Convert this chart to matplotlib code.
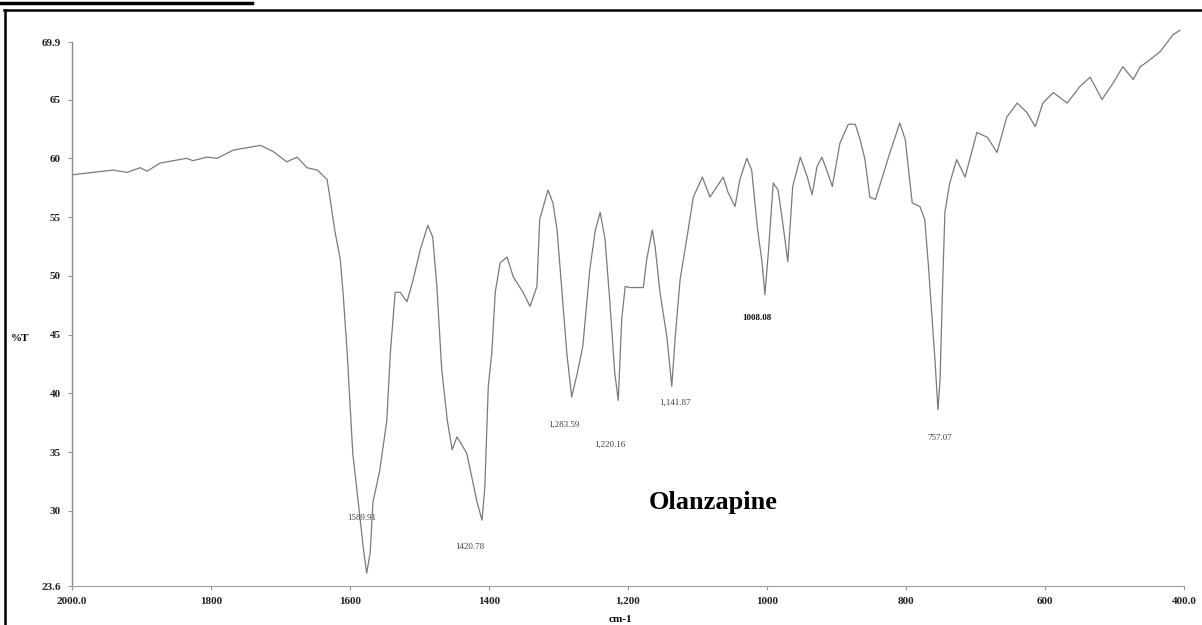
import matplotlib
matplotlib.use('Agg')
import matplotlib.pyplot as plt
from matplotlib.lines import Line2D

# wavenumber (cm-1) and %T
wavenumber = [1999, 1941, 1921, 1902, 1892, 1873, 1835, 1826, 1806, 1791,
              1768, 1729, 1711, 1691, 1676, 1662, 1647, 1633, 1629, 1622,
              1614, 1610, 1604, 1600, 1596, 1588, 1581, 1576, 1571, 1567,
              1557, 1547, 1542, 1535, 1528, 1518, 1509, 1499, 1488, 1481,
              1475, 1468, 1460, 1453, 1446, 1432, 1417, 1410, 1406, 1401,
              1396, 1391, 1384, 1374, 1365, 1351, 1341, 1331, 1327, 1319,
              1315, 1308, 1302, 1295, 1288, 1281, 1273, 1265, 1255, 1247,
              1240, 1233, 1226, 1219, 1214, 1209, 1204, 1197, 1178, 1173,
              1165, 1161, 1154, 1144, 1137, 1132, 1125, 1115, 1106, 1093,
              1082, 1072, 1063, 1056, 1046, 1039, 1029, 1022, 1014, 1007,
              1003, 998, 991, 984, 978, 970, 963, 952, 942, 935,
              928, 921, 914, 906, 895, 883, 873, 866, 859, 852,
              844, 834, 823, 809, 801, 791, 780, 773, 768, 763,
              758, 754, 751, 747, 744, 737, 727, 715, 698, 683,
              669, 655, 640, 626, 614, 603, 588, 568, 550, 535,
              525, 518, 502, 488, 473, 463, 453, 434, 416, 406]
transmittance = [58.6, 59.0, 58.8, 59.2, 58.9, 59.6, 60.0, 59.8, 60.1, 60.0,
                 60.7, 61.1, 60.6, 59.7, 60.1, 59.2, 59.0, 58.2, 56.7, 53.9,
                 51.4, 48.6, 43.4, 39.2, 34.9, 30.7, 26.9, 24.7, 26.4, 30.7,
                 33.5, 37.7, 43.4, 48.6, 48.6, 47.8, 49.7, 52.2, 54.3, 53.3,
                 49.1, 42.0, 37.7, 35.2, 36.3, 34.9, 30.7, 29.2, 32.0, 40.6,
                 43.4, 48.6, 51.1, 51.6, 49.9, 48.6, 47.4, 49.1, 54.8, 56.5,
                 57.3, 56.2, 53.9, 48.6, 43.4, 39.7, 41.7, 44.0, 50.5, 53.9,
                 55.4, 53.1, 47.7, 41.7, 39.4, 46.3, 49.1, 49.0, 49.0, 51.4,
                 53.9, 52.5, 48.6, 44.8, 40.6, 44.8, 49.7, 53.3, 56.7, 58.4,
                 56.7, 57.6, 58.4, 57.1, 55.9, 58.2, 60.0, 59.0, 54.2, 51.1,
                 48.4, 52.0, 57.9, 57.3, 54.8, 51.2, 57.6, 60.1, 58.4, 56.9,
                 59.3, 60.1, 59.0, 57.6, 61.3, 62.9, 62.9, 61.6, 59.9, 56.7,
                 56.5, 58.4, 60.5, 63.0, 61.6, 56.2, 55.9, 54.8, 51.1, 46.9,
                 42.6, 38.6, 41.1, 49.7, 55.4, 57.9, 59.9, 58.4, 62.2, 61.8,
                 60.5, 63.5, 64.7, 63.9, 62.7, 64.7, 65.6, 64.7, 66.1, 66.9,
                 65.8, 65.0, 66.4, 67.8, 66.7, 67.8, 68.2, 69.1, 70.5, 70.9]

x_ticks = [2000, 1800, 1600, 1400, 1200, 1000, 800, 600, 400]
x_labels = ['2000.0', '1800', '1600', '1400', '1,200', '1000', '800', '600', '400.0']
y_ticks = [69.9, 65, 60, 55, 50, 45, 40, 35, 30, 23.6]
y_labels = ['69.9', '65', '60', '55', '50', '45', '40', '35', '30', '23.6']

peak_labels = ['1589.91', '1420.78', '1,283.59', '1,220.16', '1,141.87', '1008.08', '757.07']
peak_x = [1583, 1427, 1293, 1226, 1132, 1014, 751]
peak_y = [29.4, 26.9, 37.3, 35.6, 39.2, 46.4, 36.2]

serif = ['Liberation Serif', 'DejaVu Serif']

fig = plt.figure(figsize=(12.02, 6.25), dpi=100)
ax = fig.add_axes([0.0599, 0.0624, 0.9251, 0.8704])

ax.plot(wavenumber, transmittance, color='#7a7a7a', lw=0.9, clip_on=False)

ax.set_xlim(2000, 400)
ax.set_ylim(23.6, 69.9)
ax.set_xticks(x_ticks)
ax.set_xticklabels(x_labels)
ax.set_yticks(y_ticks)
ax.set_yticklabels(y_labels)
for lab in ax.get_xticklabels() + ax.get_yticklabels():
    lab.set_family(serif)
    lab.set_fontweight('bold')
    lab.set_fontsize(8)
    lab.set_color('#222222')
ax.tick_params(axis='both', length=3, width=0.8, color='#999999', pad=5)

for s in ['top', 'right']:
    ax.spines[s].set_visible(False)
ax.spines['left'].set_color('#8a8a8a')
ax.spines['bottom'].set_color('#a0a0a0')
ax.spines['left'].set_linewidth(1.0)
ax.spines['bottom'].set_linewidth(0.8)

for lab, px, py in zip(peak_labels, peak_x, peak_y):
    w = 'bold' if lab == '1008.08' else 'normal'
    c = '#111111' if lab == '1008.08' else '#444444'
    ax.text(px, py, lab, fontsize=6.5, family=serif, ha='center', va='center',
            color=c, fontweight=w)

ax.text(1078, 30.7, 'Olanzapine', fontsize=19, fontweight='bold', family=serif,
        ha='center', va='center')

fig.text(0.0166, 0.459, '%T', fontsize=8, fontweight='bold', family=serif,
         ha='center', va='center')
fig.text(0.516, 0.009, 'cm-1', fontsize=8, fontweight='bold', family=serif,
         ha='center', va='center')

# scan frame
fig.add_artist(Line2D([0, 0.21], [0.995, 0.995], color='black', lw=2.5))
fig.add_artist(Line2D([0.003, 1.0], [0.984, 0.984], color='black', lw=1.8))
fig.add_artist(Line2D([0.004, 0.004], [0.0, 0.984], color='black', lw=1.8))

fig.savefig('out.png', dpi=100)
